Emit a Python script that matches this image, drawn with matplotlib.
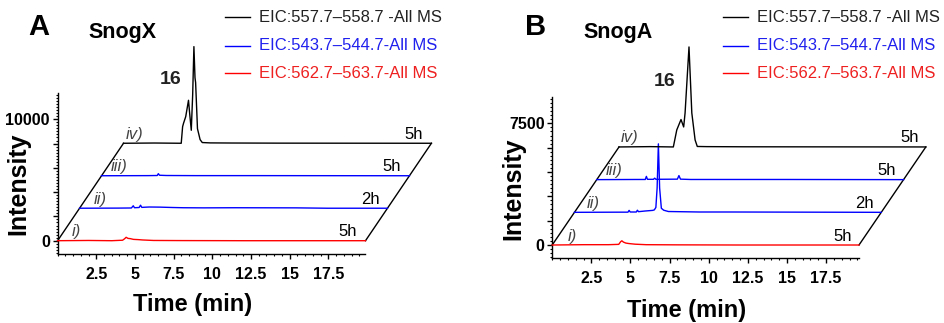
import numpy as np
import matplotlib
matplotlib.use("Agg")
import matplotlib.pyplot as plt
from matplotlib.lines import Line2D
from matplotlib.ticker import FixedLocator, MultipleLocator, FixedFormatter

plt.rcParams['font.family'] = ['Liberation Sans', 'DejaVu Sans']

# ---------------- data ----------------
legend_labels = ["EIC:557.7\u2013558.7 -All MS", "EIC:543.7\u2013544.7-All MS", "EIC:562.7\u2013563.7-All MS"]
trace_names = ["i)", "ii)", "iii)", "iv)"]
time_labels_A = ["5h", "2h", "5h", "5h"]
time_labels_B = ["5h", "2h", "5h", "5h"]
trace_colors = ["red", "blue", "blue", "black"]

# Panel A (SnogX) - times (min, along each trace) and intensities
A_i_t = [0, 2.0, 3.5, 4.2, 4.33, 4.43, 4.55, 4.7, 4.9, 5.2, 5.5, 6.2, 8.0, 12.0, 19.9]
A_i_y = [0, 20, 0, 40, 160, 280, 190, 170, 110, 90, 60, 20, 10, 0, 0]
A_ii_t = [0, 2.5, 3.35, 3.47, 3.55, 3.85, 3.94, 4.02, 4.5, 5.2, 6.0, 6.7, 8.0, 10.0, 14.0, 16.0, 19.9]
A_ii_y = [0, 10, 20, 200, 40, 60, 250, 70, 100, 90, 60, 40, 30, 40, 30, 0, 0]
A_iii_t = [0, 3.0, 3.6, 3.67, 3.75, 4.2, 6.0, 10.0, 19.9]
A_iii_y = [0, 10, 20, 170, 40, 20, 10, 10, 0]
A_iv_t = [0, 2.0, 3.73, 3.82, 3.88, 4.02, 4.20, 4.28, 4.38, 4.47, 4.55, 4.62, 4.66, 4.78, 4.95, 5.09, 5.6, 7.0, 10.0, 19.9]
A_iv_y = [0, 20, 0, 1370, 1650, 2190, 3540, 2400, 1070, 4000, 7960, 5400, 5000, 1200, 300, 60, 30, 20, 10, 0]

# Panel B (SnogA)
B_i_t = [0, 2.0, 3.6, 4.25, 4.37, 4.45, 4.55, 4.7, 4.9, 5.3, 6.0, 8.0, 12.0, 19.6]
B_i_y = [0, 20, 20, 40, 200, 260, 180, 120, 90, 50, 20, 10, 0, 0]
B_ii_t = [0, 3.0, 3.42, 3.49, 3.56, 3.95, 4.02, 4.09, 4.5, 5.0, 5.1, 5.2, 5.28, 5.36, 5.44, 5.55, 5.7, 6.0, 8.0, 10.0, 19.6]
B_ii_y = [0, 10, 10, 120, 20, 20, 130, 40, 80, 120, 150, 300, 1500, 4220, 1500, 250, 130, 50, 20, 20, 0]
B_iii_t = [0, 2.5, 3.1, 3.17, 3.24, 3.62, 3.7, 3.78, 5.15, 5.25, 5.35, 6.0, 12.0, 19.6]
B_iii_y = [0, 10, 10, 200, 20, 20, 90, 20, 30, 250, 30, 10, 10, 0]
B_iv_t = [0, 2.0, 3.47, 3.69, 3.96, 4.13, 4.22, 4.47, 4.65, 4.86, 5.0, 5.6, 8.0, 19.6]
B_iv_y = [0, 20, 0, 1050, 1690, 1233, 2096, 6165, 2096, 432, 30, 20, 10, 0]

A_traces = [(A_i_t, A_i_y), (A_ii_t, A_ii_y), (A_iii_t, A_iii_y), (A_iv_t, A_iv_y)]
B_traces = [(B_i_t, B_i_y), (B_ii_t, B_ii_y), (B_iii_t, B_iii_y), (B_iv_t, B_iv_y)]

# ---------------- figure ----------------
W, H = 944, 323
fig = plt.figure(figsize=(W / 100, H / 100), dpi=100)


def fx(x):
    return x / W


def fy(y):
    return 1 - y / H


def panel(rect, traces, DX, DY, tend, ylim, ymajor, ylabels_at, yminor,
          letter, name, letter_xy, name_xy, leg_x, tlabels, name_off, tl_off,
          ylabel_xy, xlabel_xy, num_xy):
    ax = fig.add_axes(rect)
    for k, ((t, y), c) in enumerate(zip(traces, trace_colors)):
        ax.plot(np.array(t) + k * DX, np.array(y) + k * DY, color=c, lw=1.0, clip_on=False, zorder=3)
    # slanted frame
    ax.plot([0, 3 * DX], [0, 3 * DY], color='black', lw=1.0, clip_on=False, zorder=2)
    ax.plot([tend, tend + 3 * DX], [0, 3 * DY], color='black', lw=1.0, clip_on=False, zorder=2)
    ax.set_xlim(0, tend)
    ax.set_ylim(*ylim)
    for s in ['top', 'right']:
        ax.spines[s].set_visible(False)
    for s in ['left', 'bottom']:
        ax.spines[s].set_linewidth(1.0)
    ax.xaxis.set_major_locator(FixedLocator([2.5, 5, 7.5, 10, 12.5, 15, 17.5]))
    ax.set_xticklabels(["2.5", "5", "7.5", "10", "12.5", "15", "17.5"])
    ax.xaxis.set_minor_locator(MultipleLocator(0.5))
    ax.yaxis.set_major_locator(FixedLocator(ymajor))
    ax.yaxis.set_major_formatter(FixedFormatter([str(v) if v in ylabels_at else "" for v in ymajor]))
    ax.yaxis.set_minor_locator(MultipleLocator(yminor))
    ax.tick_params(axis='both', which='major', length=3.5, width=1.0, labelsize=11.5, pad=2)
    ax.tick_params(axis='x', which='major', pad=6)
    ax.tick_params(axis='both', which='minor', length=1.5, width=0.8)
    for lab in ax.get_xticklabels() + ax.get_yticklabels():
        lab.set_fontweight('bold')
    ax.patch.set_alpha(0)
    # trace labels
    for k in range(4):
        ax.annotate(trace_names[k], xy=(k * DX, k * DY), xytext=(name_off[k], 9),
                    textcoords='offset pixels', ha='center', va='center',
                    fontsize=12, style='italic', color='#444444', annotation_clip=False)
        ax.annotate(tlabels[k], xy=(tend + k * DX, k * DY), xytext=(tl_off, 9),
                    textcoords='offset pixels', ha='center', va='center',
                    fontsize=12, color='black', annotation_clip=False)
    fig.text(fx(letter_xy[0]), fy(letter_xy[1]), letter, fontsize=21, fontweight='bold', ha='center', va='center')
    fig.text(fx(name_xy[0]), fy(name_xy[1]), name, fontsize=15.5, fontweight='bold', ha='center', va='center')
    fig.text(fx(num_xy[0]), fy(num_xy[1]), "16", fontsize=14, fontweight='bold', ha='center', va='center', color='#222222')
    fig.text(fx(ylabel_xy[0]), fy(ylabel_xy[1]), "Intensity", fontsize=18, fontweight='bold', rotation=90, ha='center', va='center')
    fig.text(fx(xlabel_xy[0]), fy(xlabel_xy[1]), "Time (min)", fontsize=17, fontweight='bold', ha='center', va='center')
    leg_colors = ['black', 'blue', 'red']
    text_colors = ['#222222', '#2020ee', '#ee2020']
    for j, yy in enumerate([17.3, 46, 73.3]):
        fig.add_artist(Line2D([fx(leg_x), fx(leg_x + 25)], [fy(yy), fy(yy)], color=leg_colors[j], lw=1.0))
        fig.text(fx(leg_x + 34), fy(yy), legend_labels[j], fontsize=12, color=text_colors[j], ha='left', va='center')
    return ax


# Panel A
panel(rect=[fx(57.6), fy(254), (365.5 - 57.6) / W, (254 - 93.3) / H],
      traces=A_traces, DX=1.42, DY=2675, tend=19.9, ylim=(-1095, 12140),
      ymajor=[0, 2000, 4000, 6000, 8000, 10000], ylabels_at=[0, 10000], yminor=250,
      letter="A", name="SnogX", letter_xy=(39, 27), name_xy=(122.3, 32.3), leg_x=225,
      tlabels=time_labels_A, name_off=[19, 21, 18, 11], tl_off=-17.5,
      ylabel_xy=(18.3, 183.3), xlabel_xy=(192.7, 305), num_xy=(170.7, 80))

# Panel B
panel(rect=[fx(552.2), fy(257.5), (859 - 552.2) / W, (257.5 - 97.3) / H],
      traces=B_traces, DX=1.423, DY=2015, tend=19.6, ylim=(-770, 9106),
      ymajor=[0, 1500, 3000, 4500, 6000, 7500], ylabels_at=[0, 7500], yminor=250,
      letter="B", name="SnogA", letter_xy=(536, 26.7), name_xy=(618, 32.3), leg_x=723,
      tlabels=time_labels_B, name_off=[19.7, 18.3, 17.3, 10.3], tl_off=-16.5,
      ylabel_xy=(513.3, 188.3), xlabel_xy=(686.7, 310), num_xy=(664.3, 81.7))

fig.savefig("out.png", dpi=100)
